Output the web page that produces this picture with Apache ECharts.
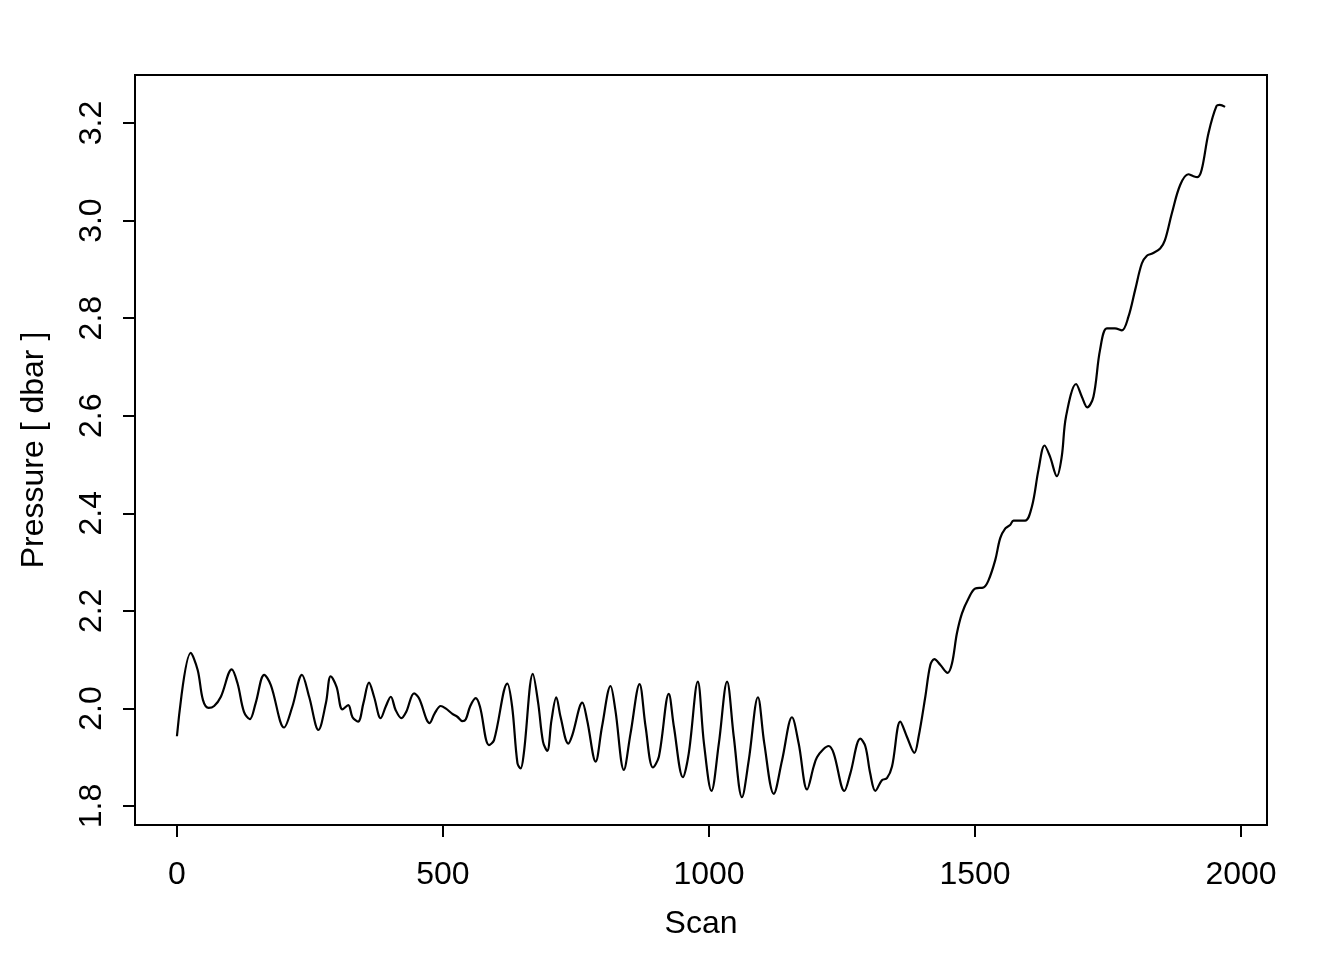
<!DOCTYPE html>
<html>
<head>
<meta charset="utf-8">
<script src="https://cdn.jsdelivr.net/npm/echarts@6/dist/echarts.min.js"></script>
<style>html,body{margin:0;padding:0;background:#fff}#c{width:1344px;height:960px}</style>
</head>
<body>
<div id="c"></div>
<script>
const scans = [0,26,39,49,59.5,70,82.6,103,114,126,137,148,164,176.5,201.5,217,235,248.5,266,280,289,300,311,322,330,340.5,350.5,361,370.5,383,392.5,402,411,422,431,445.7,455,475,484.5,495.8,505,517.7,527,536.5,543,551,561.5,569.5,586.5,596,621,630,640,646,652,669,679,688,696,704,713,721,735.5,743,762,771,787,799,815,824,840,852.6,869.5,880.8,894.6,905.8,924.5,934,951,962,979,990.6,1004.7,1018.5,1034,1046.6,1062,1074.8,1092,1104,1121.7,1137.4,1156,1168.6,1184.4,1196.8,1203,1214.5,1225,1234.4,1254.5,1265.7,1284.5,1294,1303,1312.7,1325,1334.5,1344,1359.6,1372,1386,1394,1406.6,1416,1423.5,1435,1448.5,1456.7,1466,1475.5,1488,1500.5,1516,1525.5,1538,1547.4,1557,1566,1572.4,1594,1607,1619.3,1630.7,1641,1653.9,1663,1671,1690,1700.8,1711,1722.6,1735,1747.8,1763,1776,1788.4,1801,1813.5,1823,1834,1848,1857,1870,1885.6,1901,1910.5,1918,1926,1938.8,1954,1960,1970];
const pressure = [1.943,2.114,2.079,2.017,2.001,2.005,2.024,2.080,2.051,1.993,1.978,2.011,2.069,2.048,1.961,2.004,2.069,2.024,1.956,2.011,2.066,2.044,1.998,2.007,1.982,1.973,2.011,2.053,2.024,1.980,2.004,2.024,1.997,1.980,1.993,2.031,2.021,1.970,1.990,2.005,2.000,1.989,1.983,1.974,1.978,2.004,2.021,2.004,1.925,1.935,2.051,2.004,1.888,1.877,1.908,2.071,2.011,1.932,1.913,1.976,2.023,1.983,1.928,1.945,2.012,1.976,1.891,1.963,2.046,1.997,1.874,1.949,2.050,1.963,1.879,1.901,2.030,1.963,1.859,1.908,2.055,1.928,1.831,1.928,2.055,1.942,1.818,1.894,2.023,1.928,1.825,1.894,1.982,1.928,1.834,1.881,1.900,1.916,1.923,1.908,1.831,1.867,1.938,1.922,1.867,1.831,1.853,1.857,1.881,1.973,1.942,1.909,1.942,2.024,2.089,2.101,2.089,2.073,2.092,2.154,2.195,2.226,2.246,2.248,2.263,2.304,2.349,2.369,2.376,2.385,2.385,2.414,2.489,2.539,2.516,2.476,2.516,2.598,2.665,2.639,2.617,2.639,2.735,2.779,2.779,2.775,2.803,2.858,2.912,2.928,2.933,2.943,2.960,3.015,3.073,3.095,3.091,3.089,3.104,3.179,3.235,3.237,3.233];
const xTicks = [0, 500, 1000, 1500, 2000];
const yTicks = [1.8, 2.0, 2.2, 2.4, 2.6, 2.8, 3.0, 3.2];
const xTitle = 'Scan';
const yTitle = 'Pressure [ dbar ]';

const font = 'Liberation Sans, Arial, Helvetica, sans-serif';
const chart = echarts.init(document.getElementById('c'), null, {renderer: 'canvas'});
chart.setOption({
  animation: false,
  backgroundColor: '#fff',
  grid: {left: 135, right: 77, top: 75, bottom: 135, show: true, borderColor: '#000', borderWidth: 2, backgroundColor: 'transparent'},
  xAxis: {
    type: 'value', min: -78.8, max: 2048.8,
    axisLine: {show: false, onZero: false},
    splitLine: {show: false},
    axisTick: {show: true, customValues: xTicks, length: 12, lineStyle: {color: '#000', width: 2}},
    axisLabel: {customValues: xTicks, fontSize: 32, color: '#000', fontFamily: font, margin: 34,
      formatter: v => String(Math.round(v))},
    name: xTitle, nameLocation: 'middle', nameGap: 83,
    nameTextStyle: {fontSize: 32, color: '#000', fontFamily: font}
  },
  yAxis: {
    type: 'value', min: 1.7611, max: 3.2984,
    axisLine: {show: false, onZero: false},
    splitLine: {show: false},
    axisTick: {show: true, customValues: yTicks, length: 12, lineStyle: {color: '#000', width: 2}},
    axisLabel: {customValues: yTicks, rotate: 90, fontSize: 32, color: '#000', fontFamily: font, margin: 27,
      formatter: v => Number(v).toFixed(1)},
    name: yTitle, nameLocation: 'middle', nameGap: 85,
    nameTextStyle: {fontSize: 32, color: '#000', fontFamily: font}
  },
  series: [{
    type: 'line',
    data: scans.map((s, i) => [s, pressure[i]]),
    showSymbol: false,
    smooth: 0.35,
    lineStyle: {color: '#000', width: 2.2},
    silent: true
  }]
});
</script>
</body>
</html>
